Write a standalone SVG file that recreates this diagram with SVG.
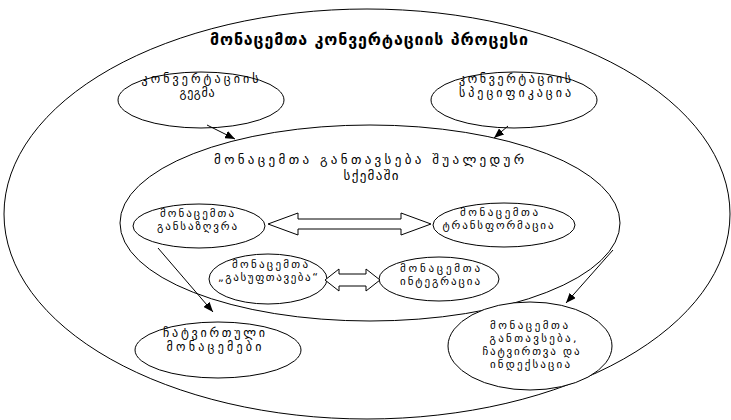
<svg xmlns="http://www.w3.org/2000/svg" width="731" height="420" viewBox="0 0 731 420">
<defs>
<marker id="ah" markerWidth="10" markerHeight="8" refX="10" refY="4" orient="auto" markerUnits="userSpaceOnUse"><path d="M0,0 L10,4 L0,8 Z" fill="#000"/></marker>
</defs>
<style>
ellipse{fill:#fff;stroke:#000;stroke-width:1}
text{font-family:"DejaVu Sans",sans-serif;font-size:11px;text-anchor:middle;fill:#000}
.t{font-size:16px;font-weight:bold}
.m{font-size:13px}
.l{font-size:12px}
.c line{stroke:#000;stroke-width:1;marker-end:url(#ah)}
.ba{fill:#fff;stroke:#000;stroke-width:1}
</style>
<rect width="731" height="420" fill="#fff"/>
<g id="process">
<ellipse cx="367" cy="214" rx="363" ry="205"/>
<text class="t" x="369" y="45" textLength="318">მონაცემთა კონვერტაციის პროცესი</text>
</g>
<g id="plan">
<ellipse cx="201" cy="100" rx="83" ry="28"/>
<text class="l" x="200" y="83" textLength="117">კონვერტაციის</text>
<text class="l" x="197" y="97" textLength="35">გეგმა</text>
</g>
<g id="spec">
<ellipse cx="514" cy="100" rx="83" ry="28"/>
<text class="l" x="515" y="83" textLength="112">კონვერტაციის</text>
<text class="l" x="515" y="97" textLength="112">სპეციფიკაცია</text>
</g>
<g id="staging">
<ellipse cx="370" cy="223" rx="250" ry="98"/>
<text class="m" x="369" y="164" textLength="310">მონაცემთა განთავსება შუალედურ</text>
<text class="m" x="371" y="180" textLength="55">სქემაში</text>
</g>
<g id="definition">
<ellipse cx="199" cy="226" rx="66" ry="22"/>
<text x="197" y="217" textLength="74">მონაცემთა</text>
<text x="197" y="230" textLength="80">განსაზღვრა</text>
</g>
<g id="transformation">
<ellipse cx="504" cy="225" rx="71" ry="22"/>
<text x="499" y="216" textLength="78">მონაცემთა</text>
<text x="498" y="229" textLength="111">ტრანსფორმაცია</text>
</g>
<g id="cleaning">
<ellipse cx="268" cy="279" rx="59" ry="25"/>
<text x="270" y="268" textLength="76">მონაცემთა</text>
<text x="268" y="281" textLength="100">„გასუფთავება“</text>
</g>
<g id="integration">
<ellipse cx="439" cy="279" rx="60" ry="22"/>
<text x="440" y="272" textLength="80">მონაცემთა</text>
<text x="440" y="285" textLength="80">ინტეგრაცია</text>
</g>
<g id="loaded">
<ellipse cx="218" cy="350" rx="83" ry="28"/>
<text class="l" x="214" y="337" textLength="102">ჩატვირთული</text>
<text class="l" x="214" y="351" textLength="95">მონაცემები</text>
</g>
<g id="loading">
<ellipse cx="530" cy="346" rx="82" ry="44"/>
<text x="529" y="329" textLength="78">მონაცემთა</text>
<text x="533" y="342" textLength="87">განთავსება,</text>
<text x="531" y="355" textLength="97">ჩატვირთვა და</text>
<text x="530" y="368" textLength="80">ინდექსაცია</text>
</g>
<g id="connectors" class="c">
<line x1="207" y1="125" x2="235" y2="139"/>
<line x1="508" y1="126" x2="494" y2="138"/>
<line x1="158" y1="248" x2="213" y2="312"/>
<line x1="613" y1="250" x2="566" y2="303"/>
<path class="ba" d="M268,224 L298,213 L298,219 L401,219 L401,213 L431,224 L401,235 L401,229 L298,229 L298,235 Z"/>
<path class="ba" d="M325,280 L339,269 L339,274 L366,274 L366,269 L380,280 L366,291 L366,286 L339,286 L339,291 Z"/>
</g>
</svg>
